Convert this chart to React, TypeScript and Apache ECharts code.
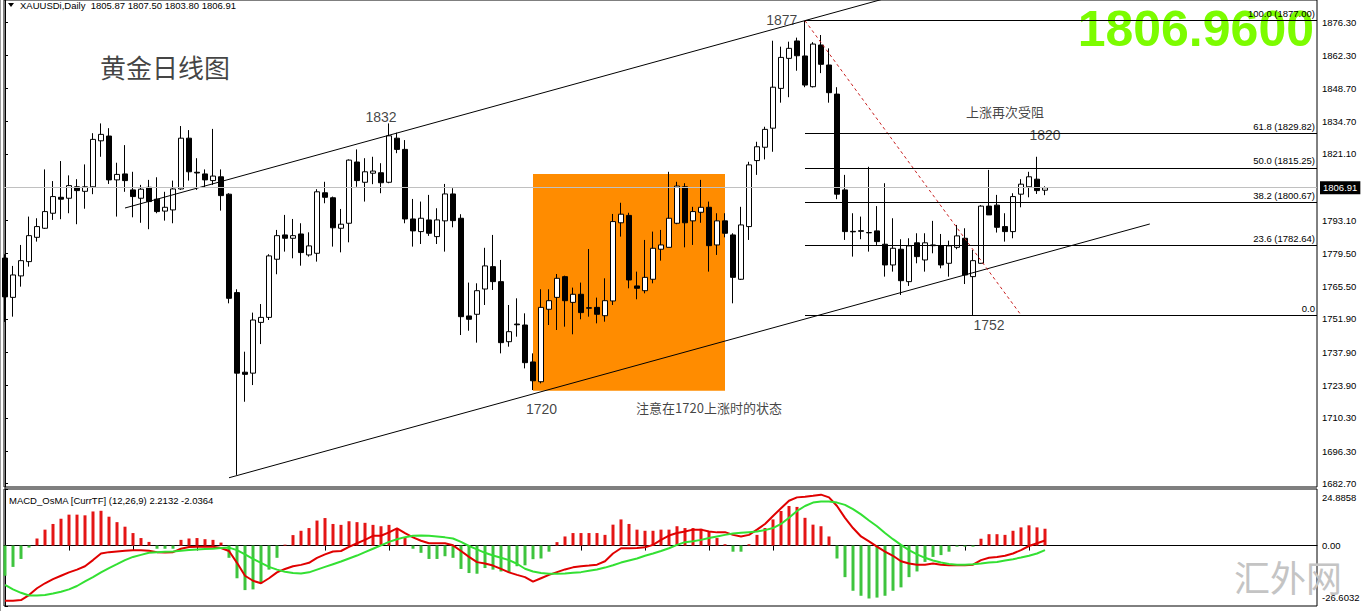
import React, { useEffect, useRef } from 'react';
import * as echarts from 'echarts';

// ---------- Daily XAUUSD candles (bar index = position) ----------
const candleOpen = [
  1777.4, 1760.9, 1769.9, 1775.9, 1786.1, 1789.9, 1796.2, 1802.9, 1802.5, 1807.3,
  1805.4, 1807.3, 1826.6, 1828.6, 1810.2, 1812.7, 1806.0, 1802.5, 1807.1, 1802.1,
  1797.1, 1797.6, 1806.4, 1827.7, 1813.4, 1812.7, 1809.9, 1811.5, 1804.2, 1762.9,
  1729.5, 1729.1, 1750.4, 1752.5, 1776.9, 1787.1, 1785.7, 1787.5, 1778.7, 1779.4,
  1804.8, 1802.7, 1789.9, 1792.0, 1817.7, 1809.2, 1813.0, 1813.2, 1809.2, 1827.7,
  1823.0, 1793.8, 1788.5, 1793.4, 1786.4, 1793.0, 1804.3, 1794.1, 1753.1, 1753.8,
  1764.4, 1773.8, 1767.5, 1742.3, 1749.7, 1749.3, 1733.8, 1725.5, 1755.9, 1760.9,
  1769.6, 1758.8, 1762.2, 1756.3, 1756.7, 1753.2, 1759.4, 1792.2, 1795.3, 1765.7,
  1763.7, 1768.5, 1781.1, 1781.9, 1792.0, 1807.3, 1793.0, 1796.6, 1798.7, 1782.9,
  1793.0, 1787.1, 1768.5, 1790.6, 1818.3, 1823.9, 1831.9, 1848.6, 1861.2, 1868.5,
  1862.2, 1849.3, 1866.8, 1858.4, 1846.2, 1806.0, 1788.6, 1788.6, 1788.1, 1788.8,
  1783.2, 1774.5, 1781.1, 1767.5, 1783.8, 1776.6, 1782.9, 1782.6, 1775.2, 1781.9,
  1785.7, 1769.6, 1775.2, 1799.2, 1799.6, 1790.6, 1788.5, 1804.2, 1807.3, 1810.5,
  1805.87,
];
const candleHigh = [
  1779.0, 1774.1, 1782.9, 1794.8, 1794.1, 1814.6, 1809.7, 1818.1, 1812.1, 1810.5,
  1816.7, 1829.8, 1833.9, 1831.9, 1817.4, 1824.8, 1813.6, 1808.1, 1810.2, 1811.3,
  1805.2, 1809.9, 1832.8, 1831.1, 1819.3, 1814.6, 1831.6, 1814.6, 1804.6, 1764.3,
  1738.1, 1754.5, 1758.1, 1779.0, 1789.2, 1795.5, 1793.8, 1792.0, 1788.2, 1806.3,
  1809.4, 1803.2, 1798.0, 1818.8, 1823.0, 1819.3, 1819.9, 1817.2, 1833.9, 1830.0,
  1826.9, 1802.2, 1801.1, 1803.9, 1798.3, 1808.5, 1806.7, 1795.8, 1767.1, 1766.8,
  1781.7, 1787.1, 1776.6, 1757.7, 1760.5, 1754.2, 1737.4, 1764.3, 1764.3, 1770.7,
  1770.0, 1765.0, 1767.1, 1781.2, 1760.8, 1768.9, 1795.9, 1800.6, 1796.4, 1771.7,
  1785.0, 1788.5, 1789.2, 1813.6, 1809.4, 1808.8, 1798.9, 1810.2, 1801.1, 1796.2,
  1796.2, 1787.8, 1798.9, 1817.8, 1826.2, 1832.5, 1868.6, 1866.1, 1868.2, 1869.9,
  1877.0, 1868.0, 1871.0, 1865.4, 1849.1, 1812.3, 1796.2, 1794.8, 1815.7, 1799.2,
  1808.8, 1794.1, 1785.3, 1785.7, 1787.8, 1787.8, 1793.0, 1787.5, 1784.7, 1791.3,
  1789.9, 1780.8, 1799.6, 1814.4, 1803.9, 1796.2, 1804.6, 1810.5, 1813.6, 1819.9,
  1807.50,
];
const candleLow = [
  1750.6, 1752.8, 1765.4, 1773.8, 1784.3, 1789.6, 1793.4, 1793.7, 1796.2, 1791.6,
  1798.1, 1804.2, 1819.9, 1808.5, 1794.8, 1805.2, 1794.5, 1792.2, 1789.5, 1796.2,
  1793.1, 1792.0, 1806.0, 1809.9, 1806.0, 1807.1, 1808.1, 1797.3, 1758.4, 1686.4,
  1717.1, 1724.1, 1741.3, 1751.4, 1770.6, 1780.1, 1777.3, 1774.2, 1778.0, 1775.9,
  1800.4, 1782.2, 1779.8, 1784.0, 1807.3, 1801.1, 1808.4, 1804.6, 1808.8, 1821.4,
  1792.0, 1782.2, 1783.3, 1786.7, 1783.3, 1780.1, 1790.3, 1745.1, 1746.9, 1741.9,
  1757.7, 1764.0, 1737.4, 1740.2, 1744.4, 1731.1, 1722.0, 1724.8, 1749.3, 1747.2,
  1748.6, 1745.4, 1751.7, 1752.8, 1750.0, 1750.7, 1757.7, 1786.4, 1764.7, 1760.1,
  1762.6, 1766.8, 1776.3, 1781.9, 1791.6, 1781.9, 1782.9, 1792.2, 1771.7, 1778.7,
  1786.1, 1758.4, 1768.2, 1785.0, 1812.3, 1818.8, 1822.0, 1842.6, 1844.9, 1856.0,
  1849.1, 1849.0, 1855.0, 1842.6, 1802.1, 1785.0, 1778.0, 1785.3, 1780.1, 1782.9,
  1769.6, 1771.7, 1761.9, 1765.7, 1775.2, 1771.7, 1779.4, 1773.1, 1769.6, 1781.1,
  1766.5, 1753.5, 1775.0, 1795.5, 1788.1, 1784.3, 1785.7, 1798.7, 1802.9, 1804.3,
  1803.80,
];
const candleClose = [
  1761.1, 1770.3, 1776.3, 1786.8, 1790.6, 1796.9, 1803.2, 1802.1, 1807.8, 1805.7,
  1807.3, 1827.2, 1829.3, 1810.2, 1812.5, 1809.9, 1803.2, 1806.3, 1801.1, 1796.9,
  1798.7, 1806.4, 1827.7, 1813.6, 1813.1, 1810.2, 1811.8, 1803.6, 1760.5, 1729.1,
  1728.6, 1751.4, 1752.5, 1778.3, 1786.8, 1785.7, 1786.8, 1779.7, 1782.5, 1805.2,
  1802.9, 1790.1, 1791.6, 1818.5, 1809.9, 1813.6, 1813.9, 1809.0, 1828.7, 1823.0,
  1793.8, 1788.8, 1794.1, 1787.8, 1793.4, 1804.3, 1793.1, 1752.8, 1751.7, 1763.7,
  1774.1, 1767.5, 1741.9, 1746.5, 1749.4, 1733.5, 1725.9, 1756.7, 1759.5, 1768.9,
  1759.5, 1762.2, 1754.5, 1756.6, 1753.8, 1759.5, 1792.7, 1795.8, 1768.2, 1764.7,
  1769.3, 1781.5, 1782.9, 1794.1, 1807.6, 1792.2, 1796.9, 1798.7, 1782.6, 1793.0,
  1787.8, 1769.3, 1791.3, 1816.5, 1824.1, 1831.4, 1849.1, 1861.6, 1865.4, 1862.3,
  1850.0, 1867.2, 1858.7, 1846.8, 1804.2, 1788.5, 1788.4, 1788.9, 1788.0, 1784.3,
  1774.5, 1781.5, 1767.9, 1782.5, 1778.0, 1783.8, 1782.6, 1774.5, 1782.5, 1786.7,
  1770.3, 1776.3, 1799.2, 1795.5, 1790.3, 1788.5, 1803.2, 1808.4, 1811.5, 1805.7,
  1806.91,
];

// ---------- MACD_OsMA panel ----------
const osmaHist = [
  -13.3, -9.4, -5.9, -0.9, 3.1, 7.0, 9.5, 11.8, 13.6, 13.6,
  13.3, 15.0, 15.3, 12.7, 10.3, 8.3, 5.5, 3.3, 1.6, -1.4,
  -1.4, -1.4, 2.5, 3.1, 3.3, 2.8, 2.5, 1.3, -5.4, -14.4,
  -19.6, -19.3, -16.6, -10.6, -5.4, 0.4, 4.6, 6.5, 7.7, 11.0,
  12.1, 9.5, 9.1, 10.7, 10.3, 10.0, 9.1, 8.5, 9.1, 7.3,
  3.6, -1.4, -3.2, -5.9, -5.9, -4.7, -5.4, -10.3, -12.1, -12.4,
  -9.9, -10.6, -11.4, -11.8, -9.1, -8.7, -6.0, -5.7, -2.7, 1.5,
  4.0, 5.5, 5.5, 5.5, 5.5, 4.7, 9.2, 11.5, 9.5, 7.0,
  6.5, 6.5, 7.0, 7.0, 8.5, 7.7, 7.7, 7.4, 6.2, 3.3,
  0.6, -2.7, -2.7, 0.6, 4.7, 7.7, 11.5, 15.2, 17.4, 17.0,
  12.2, 9.2, 8.5, 4.0, -5.7, -13.9, -19.9, -22.1, -23.3, -22.9,
  -22.1, -19.9, -18.4, -13.9, -11.4, -7.2, -5.0, -4.2, -2.7, -0.5,
  -0.5, -0.5, 3.0, 5.0, 5.0, 4.7, 6.5, 8.0, 8.9, 8.0,
  7.4,
];
const macdMain = [
  -24.3, -24.3, -24.0, -21.8, -18.8, -16.6, -14.8, -13.3, -11.8, -10.6,
  -9.1, -6.4, -3.5, -2.9, -2.6, -2.3, -2.1, -2.1, -2.3, -2.9,
  -3.1, -2.9, -1.4, -0.6, -0.5, -0.5, -0.5, -1.1, -2.4, -7.6,
  -13.3, -15.5, -16.6, -14.4, -11.8, -10.3, -9.1, -8.5, -7.6, -5.4,
  -3.9, -2.6, -2.4, -0.6, 1.0, 2.5, 4.3, 4.3, 5.8, 7.6,
  5.5, 3.6, 2.1, 1.0, 1.0, 1.0, 0.1, -2.4, -5.0, -7.3,
  -7.9, -8.8, -10.3, -11.8, -12.9, -13.9, -15.9, -14.4, -12.9, -11.7,
  -10.5, -9.6, -9.1, -8.8, -8.4, -6.9, -3.5, -1.2, -1.2, -1.1,
  -0.8, 0.3, 2.5, 4.4, 5.5, 6.2, 7.0, 7.0, 6.2, 5.8,
  5.9, 4.7, 4.0, 4.7, 7.0, 9.5, 13.0, 16.4, 19.7, 21.2,
  21.5, 21.9, 22.4, 21.2, 17.4, 12.2, 7.7, 4.0, 1.8, -0.5,
  -2.7, -4.5, -6.9, -7.9, -8.4, -8.4, -7.9, -8.4, -8.7, -8.7,
  -8.7, -8.4, -6.4, -5.4, -5.0, -4.5, -3.5, -2.0, -0.2, 1.0,
  2.2132,
];
const macdSignal = [
  -17.3, -19.3, -20.8, -22.0, -22.0, -21.8, -21.1, -20.3, -19.3, -17.8,
  -15.8, -13.9, -11.8, -9.9, -8.2, -6.4, -5.0, -4.1, -3.2, -2.9,
  -2.7, -2.6, -2.3, -2.0, -1.7, -1.5, -1.4, -1.1, -0.9, -2.0,
  -3.9, -5.9, -7.6, -9.4, -10.6, -11.5, -12.1, -12.3, -11.8, -10.6,
  -9.4, -8.2, -7.0, -5.7, -4.4, -2.9, -1.4, 0.1, 1.6, 2.8,
  3.7, 4.3, 4.4, 4.3, 4.0, 3.6, 3.1, 1.6, -0.2, -1.7,
  -3.2, -4.4, -5.4, -6.4, -8.0, -10.2, -11.4, -12.1, -12.4, -12.4,
  -12.3, -12.0, -11.7, -11.1, -10.5, -9.7, -8.7, -7.5, -6.6, -5.7,
  -4.5, -3.5, -2.4, -1.2, 0.3, 1.5, 1.9, 2.5, 3.3, 4.0,
  4.7, 5.3, 5.6, 5.9, 6.2, 6.8, 7.7, 9.5, 12.2, 15.2,
  17.4, 18.9, 19.4, 19.4, 18.9, 17.9, 16.0, 13.7, 11.0, 8.5,
  5.5, 2.8, 0.3, -2.0, -3.9, -5.4, -6.6, -7.5, -8.1, -8.4,
  -8.4, -8.2, -7.9, -7.5, -7.2, -6.6, -6.0, -5.3, -4.5, -3.5,
  -2.0364,
];

// ---------- axes ----------
const priceTicks = [1876.3, 1862.3, 1848.7, 1834.7, 1821.1, 1793.1, 1779.5, 1765.5, 1751.9, 1737.9, 1723.9, 1710.3, 1696.3, 1682.7];
const macdTicks = [-26.6032, 0, 24.8858];
const periodTicks = [0, 8, 16, 24, 32, 40, 48, 56, 64, 72, 80, 88, 96, 104, 112, 120, 128];

// ---------- drawings (bar index, price) ----------
const fibLevels = [100.0, 61.8, 50.0, 38.2, 23.6, 0.0];
const fibPrices = [1877.0, 1829.82, 1815.25, 1800.67, 1782.64, 1753.49];
const fibStartBar = 100;
const upperChannel = [[15, 1798.4], [110, 1886.3]];
const lowerChannel = [[28, 1685.2], [143.1, 1791.7]];
const swingLine = [[100, 1877.0], [127, 1753.49]];
const highlightBox = [[66, 1812.7], [90, 1721.75]];
const priceNotes = [
  { text: '1832', bar: 47, price: 1836.4 },
  { text: '1877', bar: 97.1, price: 1877.1 },
  { text: '1720', bar: 67.06, price: 1714.1 },
  { text: '1752', bar: 123, price: 1749.1 },
  { text: '1820', bar: 130, price: 1829.0 },
];
const commentNotes = [
  { text: '注意在1720上涨时的状态', bar: 88, price: 1714.7 },
  { text: '上涨再次受阻', bar: 125, price: 1838.9 },
];
const titleNote = { text: '黄金日线图', bar: 20, price: 1857.8 };
const symbolName = 'XAUUSDi,Daily';
const macdTitle = 'MACD_OsMA [CurrTF] (12,26,9) 2.2132 -2.0364';
const bigQuote = '1806.9600';
const watermark = '汇外网';

const X_MIN = -0.125;
const X_MAX = 164;
const Y_MIN = 1681.32;
const Y_MAX = 1885.69;
const LATIN = "'Liberation Sans', Arial, sans-serif";
const CJK = "'Noto Sans CJK SC', sans-serif";

export default function App() {
  const ref = useRef<HTMLDivElement>(null);

  useEffect(() => {
    document.body.style.margin = '0';
    if (!ref.current) return;
    const chart = echarts.init(ref.current, undefined, { renderer: 'svg' });
    const n = candleClose.length;
    const lastClose = candleClose[n - 1];
    const candles = candleClose.map((c, i) => [i, candleOpen[i], c, candleLow[i], candleHigh[i]]);

    const option: any = {
      animation: false,
      backgroundColor: '#fff',
      grid: [
        { left: 4, top: 0, width: 1313, height: 487, show: true, borderColor: '#000', borderWidth: 1, containLabel: false, outerBoundsMode: 'none' },
        { left: 4, top: 489, width: 1313, height: 117, show: true, borderColor: '#000', borderWidth: 1, containLabel: false, outerBoundsMode: 'none' },
      ],
      xAxis: [
        { type: 'value', gridIndex: 0, min: X_MIN, max: X_MAX, show: false },
        {
          type: 'value', gridIndex: 1, min: X_MIN, max: X_MAX,
          axisLine: { show: true, lineStyle: { color: '#000', width: 1 } },
          axisTick: { show: true, customValues: periodTicks, length: 5, lineStyle: { color: '#000' } },
          axisLabel: { show: false },
          splitLine: { show: false },
        },
      ],
      yAxis: [
        {
          type: 'value', gridIndex: 0, position: 'right', min: Y_MIN, max: Y_MAX,
          axisLine: { show: true, lineStyle: { color: '#000' } },
          axisTick: { show: true, customValues: priceTicks, length: 3, lineStyle: { color: '#000' } },
          axisLabel: {
            customValues: priceTicks, margin: 5, fontSize: 9.5, fontFamily: LATIN, color: '#000',
            formatter: (v: number) => v.toFixed(2),
          },
          splitLine: { show: false },
        },
        {
          type: 'value', gridIndex: 1, position: 'right', min: macdTicks[0], max: macdTicks[2],
          axisLine: { show: true, lineStyle: { color: '#000' } },
          axisTick: { show: true, customValues: macdTicks, length: 3, lineStyle: { color: '#000' } },
          axisLabel: {
            customValues: macdTicks, margin: 5, fontSize: 9.5, fontFamily: LATIN, color: '#000',
            lineHeight: 17,
            formatter: (v: number) => {
              if (v === 0) return '0.00';
              if (v > 0) return ' \n' + v.toFixed(4);
              return v.toFixed(4) + '\n ';
            },
          },
          splitLine: { show: false },
        },
      ],
      series: [
        {
          type: 'line', xAxisIndex: 0, yAxisIndex: 0, data: [], z: 1, silent: true,
          markArea: {
            silent: true,
            itemStyle: { color: '#FF8C00', opacity: 1 },
            data: [[
              { coord: highlightBox[0] },
              { coord: highlightBox[1] },
            ]],
          },
        },
        {
          type: 'line', xAxisIndex: 0, yAxisIndex: 0, data: [], z: 2, silent: true,
          markLine: {
            silent: true, symbol: 'none',
            lineStyle: { color: '#c0c0c0', type: 'solid', width: 1 },
            label: {
              position: 'end', distance: 3, formatter: lastClose.toFixed(2),
              backgroundColor: '#000', color: '#fff', padding: [2, 3, 1, 3],
              fontSize: 9.5, fontFamily: LATIN,
            },
            data: [{ yAxis: lastClose }],
          },
        },
        {
          type: 'line', xAxisIndex: 0, yAxisIndex: 0, data: [], z: 2, silent: true,
          markLine: {
            silent: true, symbol: 'none',
            lineStyle: { color: '#000', type: 'solid', width: 1 },
            label: { position: 'insideEndTop', distance: 2, fontSize: 9.5, fontFamily: LATIN, color: '#000' },
            data: fibPrices.map((p, k) => [
              {
                coord: [fibStartBar, p],
                label: { formatter: fibLevels[k] === 0 ? '0.0' : `${fibLevels[k].toFixed(1)} (${p.toFixed(2)})` },
              },
              { coord: [X_MAX, p] },
            ]),
          },
        },
        {
          type: 'candlestick', xAxisIndex: 0, yAxisIndex: 0, z: 3,
          data: candles, encode: { x: 0, y: [1, 2, 3, 4] },
          barWidth: 5,
          itemStyle: {
            color: '#fff', color0: '#000', borderColor: '#000', borderColor0: '#000',
            borderColorDoji: '#000', borderWidth: 1,
          },
        },
        {
          type: 'line', xAxisIndex: 0, yAxisIndex: 0, z: 4, data: upperChannel,
          symbol: 'none', lineStyle: { color: '#000', width: 1 }, silent: true,
        },
        {
          type: 'line', xAxisIndex: 0, yAxisIndex: 0, z: 4, data: lowerChannel,
          symbol: 'none', lineStyle: { color: '#000', width: 1 }, silent: true,
        },
        {
          type: 'line', xAxisIndex: 0, yAxisIndex: 0, z: 4, data: swingLine,
          symbol: 'none', lineStyle: { color: '#c82020', width: 1, type: [3, 3] }, silent: true,
        },
        {
          type: 'scatter', xAxisIndex: 0, yAxisIndex: 0, z: 6, symbolSize: 1, silent: true,
          itemStyle: { color: 'rgba(0,0,0,0)' },
          data: [
            ...priceNotes.map((d) => ({
              value: [d.bar, d.price],
              label: { show: true, position: 'inside', formatter: d.text, fontSize: 14, fontFamily: LATIN, color: '#111' },
            })),
            ...commentNotes.map((d) => ({
              value: [d.bar, d.price],
              label: { show: true, position: 'inside', formatter: d.text, fontSize: 13, fontFamily: CJK, color: '#111' },
            })),
            {
              value: [titleNote.bar, titleNote.price],
              label: { show: true, position: 'inside', formatter: titleNote.text, fontSize: 26, fontFamily: CJK, color: '#111' },
            },
          ],
        },
        {
          type: 'bar', xAxisIndex: 1, yAxisIndex: 1, z: 2, barWidth: 3, silent: true,
          data: osmaHist.map((v, i) => [i, v]),
          itemStyle: { color: (p: any) => (p.value[1] >= 0 ? '#e41515' : '#3ec43e') },
        },
        {
          type: 'line', xAxisIndex: 1, yAxisIndex: 1, z: 3, symbol: 'none', silent: true,
          data: macdMain.map((v, i) => [i, v]),
          lineStyle: { color: '#e00000', width: 2 },
        },
        {
          type: 'line', xAxisIndex: 1, yAxisIndex: 1, z: 4, symbol: 'none', silent: true,
          data: macdSignal.map((v, i) => [i, v]),
          lineStyle: { color: '#33e033', width: 2 },
        },
      ],
      graphic: [
        { type: 'line', shape: { x1: 0.5, y1: 0, x2: 0.5, y2: 611 }, style: { stroke: '#9a9a9a', lineWidth: 1 }, silent: true },
        { type: 'polygon', shape: { points: [[8, 3], [14, 3], [11, 7]] }, style: { fill: '#000' }, silent: true },
        {
          type: 'text', x: 20, y: 5, silent: true,
          style: {
            text: `${symbolName}  ${candleOpen[n - 1].toFixed(2)} ${candleHigh[n - 1].toFixed(2)} ${candleLow[n - 1].toFixed(2)} ${lastClose.toFixed(2)}`,
            font: `9.5px ${LATIN}`, fill: '#000', verticalAlign: 'middle',
          },
        },
        {
          type: 'text', x: 9, y: 500, silent: true,
          style: { text: macdTitle, font: `9.5px ${LATIN}`, fill: '#000', verticalAlign: 'middle' },
        },
        {
          type: 'text', x: 1314, y: 29, z: 0, silent: true,
          style: { text: bigQuote, font: `bold 50px ${LATIN}`, fill: '#7CFC00', align: 'right', verticalAlign: 'middle' },
        },
        {
          type: 'text', x: 1288, y: 576, z: 0, silent: true,
          style: { text: watermark, font: `36px ${CJK}`, fill: '#c4c4c4', align: 'center', verticalAlign: 'middle' },
        },
      ],
    };

    chart.setOption(option);
    return () => chart.dispose();
  }, []);

  return (
    <div
      ref={ref}
      style={{ position: 'absolute', left: 0, top: 0, width: 1366, height: 611, background: '#fff' }}
    />
  );
}
